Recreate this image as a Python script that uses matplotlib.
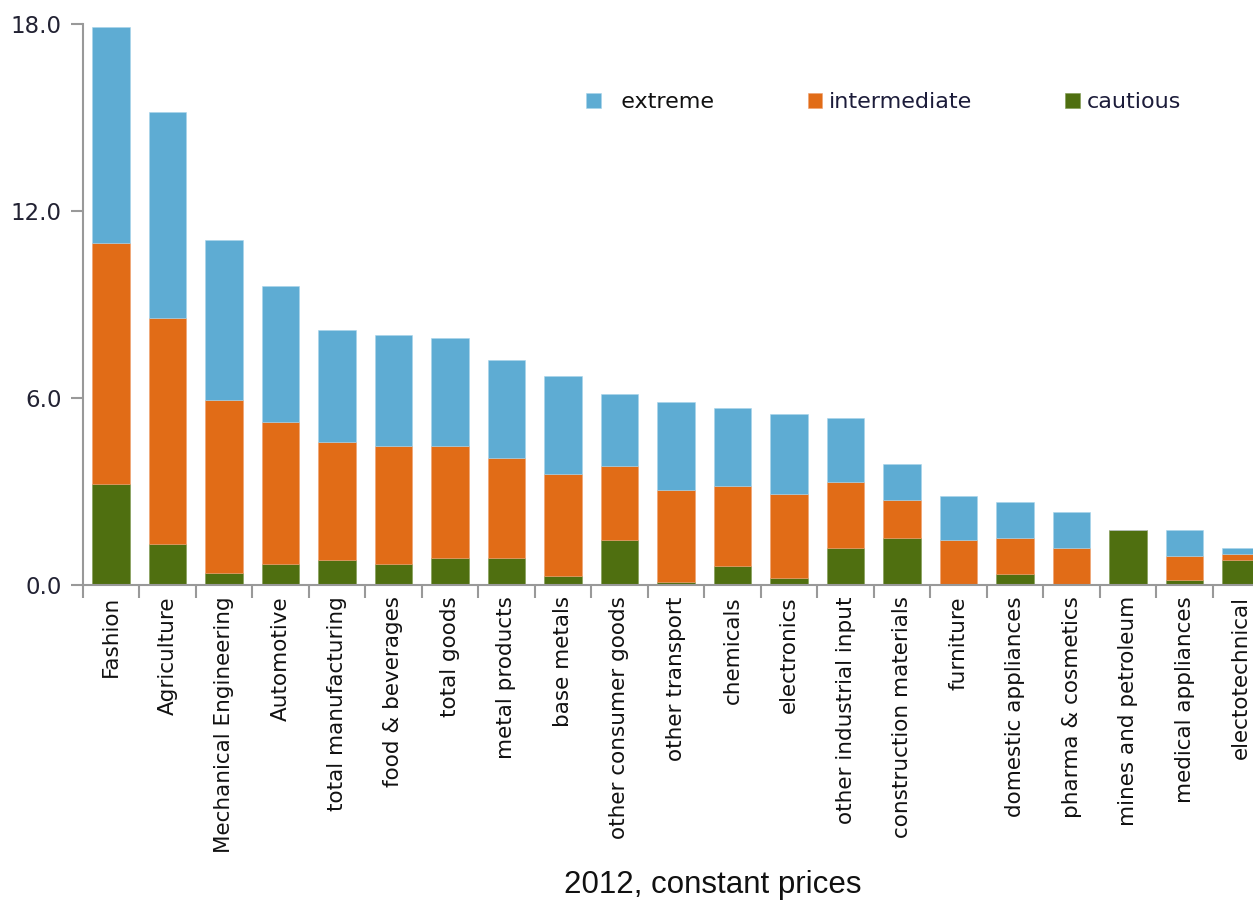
import matplotlib
matplotlib.use("Agg")
import matplotlib.pyplot as plt
import numpy as np
from matplotlib import font_manager

sectors = ["Fashion", "Agriculture", "Mechanical Engineering", "Automotive",
           "total manufacturing", "food & beverages", "total goods",
           "metal products", "base metals", "other consumer goods",
           "other transport", "chemicals", "electronics",
           "other industrial input", "construction materials", "furniture",
           "domestic appliances", "pharma & cosmetics", "mines and petroleum",
           "medical appliances", "electotechnical"]

cautious = [3.24, 1.31, 0.40, 0.67, 0.79, 0.66, 0.87, 0.87, 0.29, 1.44, 0.10,
            0.61, 0.21, 1.19, 1.51, 0.00, 0.35, 0.00, 1.76, 0.15, 0.80]
intermediate = [7.72, 7.27, 5.54, 4.56, 3.80, 3.81, 3.60, 3.21, 3.28, 2.39, 2.95,
                2.57, 2.71, 2.11, 1.22, 1.44, 1.16, 1.19, 0.00, 0.78, 0.19]
extreme = [6.93, 6.61, 5.13, 4.38, 3.60, 3.54, 3.46, 3.15, 3.15, 2.30, 2.83,
           2.50, 2.58, 2.07, 1.15, 1.42, 1.15, 1.15, 0.00, 0.83, 0.19]

yticks = [0, 6, 12, 18]

# narrow face if the system has one, otherwise plain DejaVu
installed = {f.name for f in font_manager.fontManager.ttflist}
if "Liberation Sans Narrow" in installed:
    label_font, label_size = "Liberation Sans Narrow", 17
else:
    label_font, label_size = "DejaVu Sans", 15.5

plt.rcParams["font.family"] = [label_font, "DejaVu Sans"]

fig = plt.figure(figsize=(12.53, 9.07), dpi=100)
ax = fig.add_axes([0.066, 0.355, 0.947, 0.6185])

x = np.arange(len(sectors))
c = np.array(cautious)
m = np.array(intermediate)
e = np.array(extreme)

width = 0.67
b1 = ax.bar(x, c, width, color="#4f6f10", edgecolor="#7f9a50", linewidth=0.4)
b2 = ax.bar(x, m, width, bottom=c, color="#e16c17", edgecolor="#f0a070", linewidth=0.4)
b3 = ax.bar(x, e, width, bottom=c + m, color="#5eacd3", edgecolor="#a8d4ea", linewidth=0.4)

ax.set_xlim(-0.5, len(sectors) - 0.5)
ax.set_ylim(0, 18)

ax.set_yticks(yticks)
ax.set_yticklabels([f"{v:.1f}" for v in yticks], fontsize=16.5, color="#222233")

ax.set_xticks(x)
ax.set_xticklabels(sectors, rotation=90, fontsize=label_size, color="#111111")
ax.set_xticks(np.arange(len(sectors) + 1) - 0.5, minor=True)
ax.tick_params(axis="x", which="major", length=0, pad=8)
ax.tick_params(axis="x", which="minor", length=9, width=1.5, color="#999999")
ax.tick_params(axis="y", length=9, width=1.5, color="#999999", pad=6)

for side in ["top", "right"]:
    ax.spines[side].set_visible(False)
for side in ["left", "bottom"]:
    ax.spines[side].set_color("#999999")
    ax.spines[side].set_linewidth(1.5)

leg = ax.legend([b3, b2, b1], ["  extreme", "intermediate", "cautious"],
                ncol=3, frameon=False, fontsize=16,
                handlelength=0.65, handleheight=0.65, handletextpad=0.3,
                columnspacing=4.2, loc="center left",
                bbox_to_anchor=(0.452, 0.887), bbox_transform=fig.transFigure)
for txt, col in zip(leg.get_texts(), ["#111111", "#1c1c3a", "#1c1c3a"]):
    txt.set_color(col)

fig.text(0.569, 0.008, "2012, constant prices", ha="center", va="bottom",
         fontsize=22.5, family="Liberation Sans", color="#111111")

fig.savefig("out.png", dpi=100)
